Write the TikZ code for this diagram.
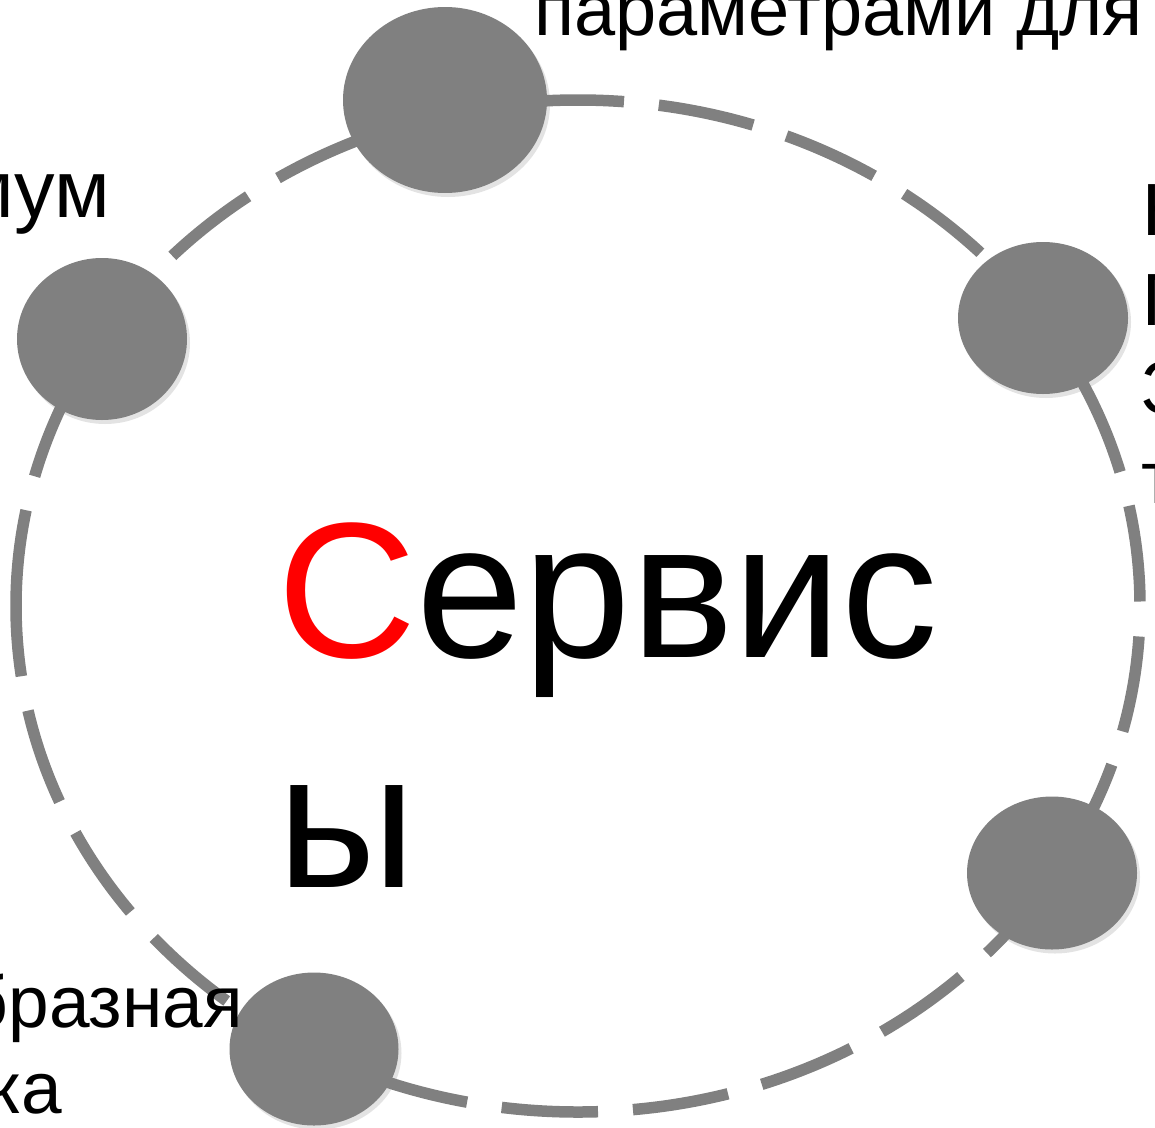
\documentclass[tikz,border=0pt]{standalone}
\usepackage{fontspec}
\setmainfont{Liberation Sans}
\usetikzlibrary{shapes.geometric,shadows}
\definecolor{dotgray}{RGB}{128,128,128}
\begin{document}
\begin{tikzpicture}[x=1pt,y=-1pt,
  ring/.style={draw=dotgray,line width=11.5pt,dash pattern=on 96.5pt off 35pt},
  dot/.style={ellipse,fill=dotgray,draw=none,inner sep=0pt,
    drop shadow={shadow xshift=3pt,shadow yshift=-4pt,opacity=0.22}},
  lbl/.style={font=\fontsize{74}{89}\selectfont,inner sep=0pt},
  big/.style={font=\fontsize{193}{230}\selectfont,inner sep=0pt}]
\useasboundingbox (0,0) rectangle (1155,1127);
\coordinate (c) at (578,606);
\draw[ring] (16,606) arc[start angle=180,end angle=-180,x radius=562pt,y radius=506pt];
\node[dot,minimum width=204pt,minimum height=186pt] (n1) at (445,100) {};
\node[dot,minimum width=170pt,minimum height=162pt] (n2) at (102,339) {};
\node[dot,minimum width=170pt,minimum height=152pt] (n3) at (1043,318) {};
\node[dot,minimum width=170pt,minimum height=153pt] (n4) at (1052,873) {};
\node[dot,minimum width=169pt,minimum height=153pt] (n5) at (314,1049) {};
\node[big,anchor=base west] (t1) at (277,657) {\textcolor{red}{С}ервис};
\node[big,anchor=base west] (t2) at (277,887) {ы};
\node[lbl,anchor=base east] (ttop) at (1143,35) {параметрами для};
\node[lbl,anchor=base east,font=\fontsize{81}{95}\selectfont] (tl) at (110,217) {минимум};
\node[lbl,anchor=base east,font=\fontsize{73}{88}\selectfont] (bl1) at (243,1027) {бразная};
\node[lbl,anchor=base east,font=\fontsize{73}{88}\selectfont] (bl2) at (62,1113) {ка};
\node[lbl,anchor=base west] (r1) at (1142,235) {Н};
\node[lbl,anchor=base west] (r2) at (1142,325) {П};
\node[lbl,anchor=base west] (r3) at (1141,413) {З};
\node[lbl,anchor=base west] (r4) at (1141,503) {т};
\end{tikzpicture}
\end{document}
